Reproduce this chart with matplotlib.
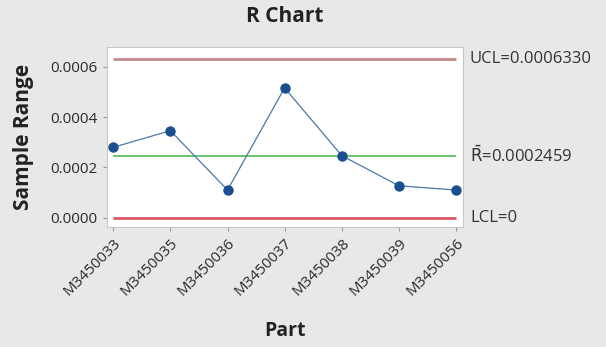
import numpy as np
import matplotlib.pyplot as plt

parts = ['M3450033', 'M3450035', 'M3450036', 'M3450037', 'M3450038', 'M3450039', 'M3450056']
ranges = [0.000280, 0.000346, 0.000110, 0.000516, 0.000247, 0.000127, 0.000110]
ucl = 0.0006330
rbar = 0.0002459
lcl = 0.0

plt.rcParams['font.family'] = ['Open Sans', 'DejaVu Sans']

fig = plt.figure(figsize=(6.06, 3.47), dpi=100)
fig.patch.set_facecolor('#e8e8e8')
ax = fig.add_axes([0.176, 0.3467, 0.588, 0.5187])
ax.set_facecolor('white')

x = np.arange(len(parts))
ax.hlines(ucl, x[0], x[-1], color='#c48a8e', lw=2)
ax.hlines(rbar, x[0], x[-1], color='#6cc46c', lw=1.4)
ax.hlines(lcl, x[0], x[-1], color='#d9566a', lw=2)
ax.plot(x, ranges, color='#4a78a8', lw=0.9, marker='o', ms=6.5,
        markerfacecolor='#1c4f8f', markeredgecolor='#1c4f8f', zorder=3)

ax.set_xlim(-0.116, 6.123)
ax.set_ylim(-0.0000358, 0.00068)
ax.set_yticks([0, 0.0002, 0.0004, 0.0006])
ax.set_yticklabels(['0.0000', '0.0002', '0.0004', '0.0006'])
ax.set_xticks(x)
ax.set_xticklabels(parts, rotation=45, ha='right', rotation_mode='anchor')
ax.tick_params(axis='both', labelsize=11, colors='#9a9a9a', labelcolor='#2a2a2a',
               length=3, width=0.8)
for s in ax.spines.values():
    s.set_color('#c8c8c8')

ax.set_title('R Chart', fontsize=15, fontweight='bold', color='#222222', pad=18)
ax.set_ylabel('Sample Range', fontsize=15, fontweight='bold', color='#222222', labelpad=12)
ax.set_xlabel('Part', fontsize=14, fontweight='bold', color='#222222', labelpad=16)

tx = 6.245
ax.text(tx, ucl, 'UCL=0.0006330', fontsize=12, color='#333333', va='center', clip_on=False)
ax.text(tx, rbar, r'$\bar{\mathrm{R}}$=0.0002459', fontsize=12, color='#333333', va='center', clip_on=False)
ax.text(tx, lcl, 'LCL=0', fontsize=12, color='#333333', va='center', clip_on=False)

fig.savefig('out.png', dpi=100, facecolor=fig.get_facecolor())
